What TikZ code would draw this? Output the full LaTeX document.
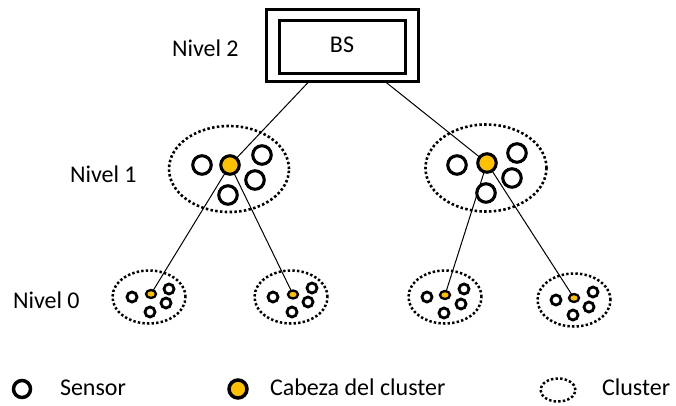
\documentclass[tikz,border=0pt]{standalone}
\usepackage{fontspec}
\setmainfont{Carlito}
\usetikzlibrary{shapes.geometric}
\definecolor{headfill}{HTML}{FFC000}
\begin{document}
\begin{tikzpicture}[x=1pt,y=-1pt,
  every node/.style={inner sep=0pt,outer sep=0pt},
  lbl/.style={font=\fontsize{24}{28}\selectfont,anchor=base west},
  sens/.style={circle,draw,line width=3.1pt,minimum size=18.5pt},
  head/.style={sens,fill=headfill},
  ssens/.style={circle,draw,line width=2.8pt,minimum size=10pt},
  shead/.style={ellipse,draw,line width=2.3pt,fill=headfill,minimum width=10pt,minimum height=8pt},
  clus/.style={ellipse,draw,line width=2.6pt,dash pattern=on 2.5pt off 2.3pt},
  sclus/.style={clus,line width=2.5pt,dash pattern=on 2.4pt off 2.2pt},
  link/.style={line width=1pt},
  box/.style={rectangle,draw,line width=3pt}]
\useasboundingbox (0,0) rectangle (676,405);

% base station
\node[box,minimum width=152pt,minimum height=72pt] (bsout) at (342,45) {};
\node[box,minimum width=126pt,minimum height=53pt] (bsin) at (342,46.5) {};
\node[lbl,anchor=base] (bstxt) at (342,52) {BS};
\coordinate (bsL) at (309,81.5);
\coordinate (bsR) at (385,81.5);

% level labels
\node[lbl] (n2) at (172,56) {Nivel 2};
\node[lbl] (n1) at (70,182) {Nivel 1};
\node[lbl] (n0) at (13,308) {Nivel 0};

% level 1 clusters
\node[clus,minimum width=120pt,minimum height=86pt] (cL) at (229,169) {};
\node[clus,minimum width=121pt,minimum height=87pt] (cR) at (486,168) {};

% level 0 clusters
\node[sclus,minimum width=73pt,minimum height=53pt] (c0a) at (149,297) {};
\node[sclus,minimum width=73pt,minimum height=53pt] (c0b) at (291,297) {};
\node[sclus,minimum width=73pt,minimum height=53pt] (c0c) at (445,297) {};
\node[sclus,minimum width=73pt,minimum height=53pt] (c0d) at (574,300) {};

% level 1 sensors
\node[sens] (la1) at (202,165) {};
\node[sens] (la2) at (262,155) {};
\node[sens] (la3) at (255,180) {};
\node[sens] (la4) at (228,195) {};
\node[sens] (ra1) at (457,165) {};
\node[sens] (ra2) at (517,153) {};
\node[sens] (ra3) at (512,178) {};
\node[sens] (ra4) at (486,193) {};

% level 0 sensors
\node[ssens] (a1) at (132,297) {};
\node[ssens] (a2) at (169,289) {};
\node[ssens] (a3) at (166,303) {};
\node[ssens] (a4) at (150,312) {};
\node[ssens] (b1) at (273,297) {};
\node[ssens] (b2) at (312,288) {};
\node[ssens] (b3) at (308,302) {};
\node[ssens] (b4) at (292,312) {};
\node[ssens] (c1) at (427,297) {};
\node[ssens] (c2) at (464,289) {};
\node[ssens] (c3) at (461,304) {};
\node[ssens] (c4) at (444,313) {};
\node[ssens] (d1) at (556,300) {};
\node[ssens] (d2) at (593,292) {};
\node[ssens] (d3) at (589,307) {};
\node[ssens] (d4) at (573,315) {};

% cluster heads
\node[head] (hL) at (230,165) {};
\node[head] (hR) at (487,163) {};
\node[shead] (ha) at (151,294) {};
\node[shead] (hb) at (293,294.5) {};
\node[shead] (hc) at (445,295) {};
\node[shead] (hd) at (574,298) {};

% links
\draw[link] (bsL) -- (hL);
\draw[link] (bsR) -- (hR);
\draw[link] (hL) -- (ha);
\draw[link] (hL) -- (hb);
\draw[link] (hR) -- (hc);
\draw[link] (hR) -- (hd);

% legend
\node[sens,line width=3.5pt,minimum width=17pt,minimum height=16pt] (lgs) at (22,389) {};
\node[lbl] (lgst) at (60,395) {Sensor};
\node[head,line width=3.5pt,minimum size=18pt] (lgh) at (238,389) {};
\node[lbl] (lght) at (270,395) {Cabeza del cluster};
\node[sclus,minimum width=35pt,minimum height=23pt] (lgc) at (558,390) {};
\node[lbl] (lgct) at (602,395) {Cluster};
\end{tikzpicture}
\end{document}
